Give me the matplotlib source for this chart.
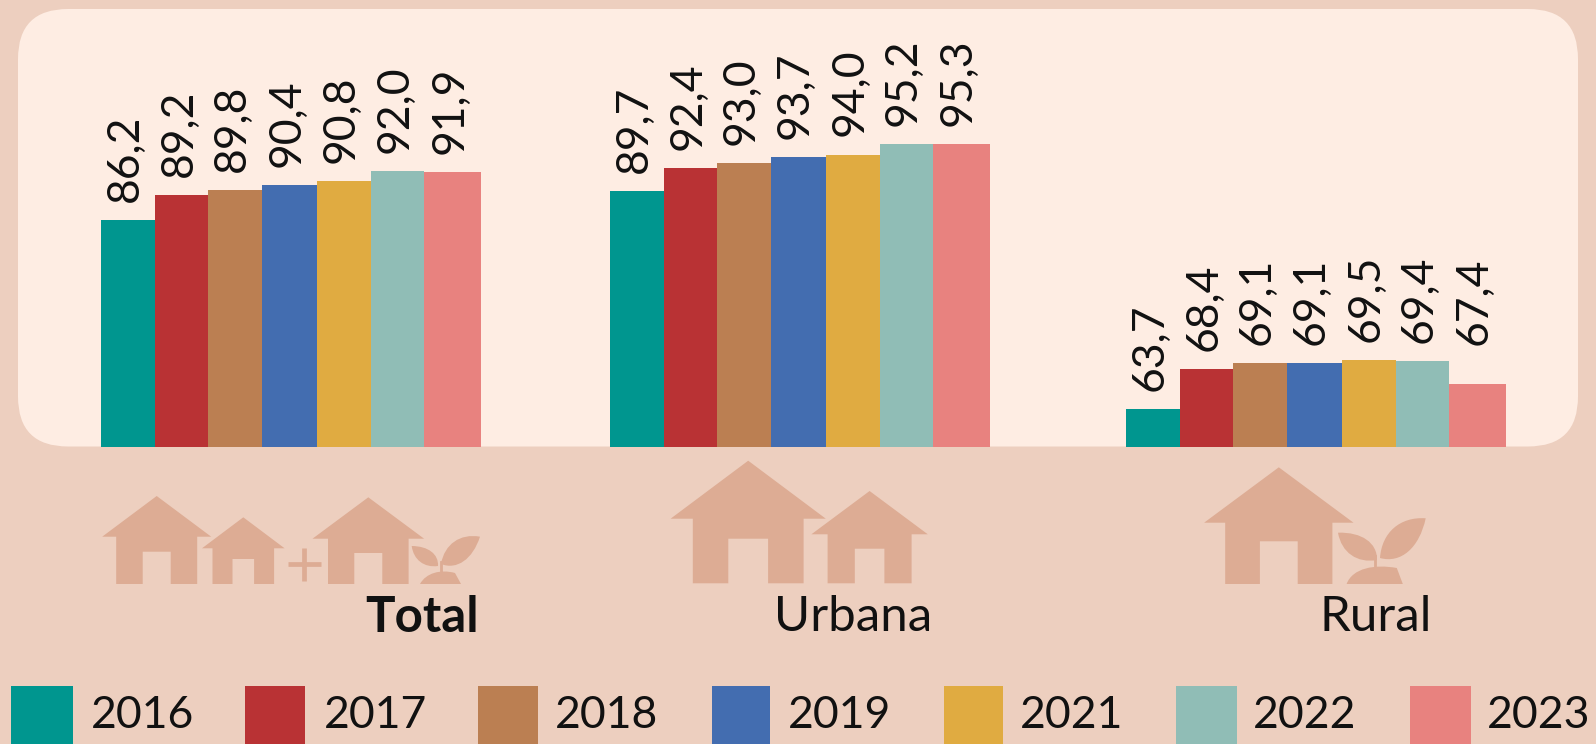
import matplotlib
matplotlib.use("Agg")
import matplotlib.pyplot as plt
from matplotlib.patches import FancyBboxPatch, PathPatch, Polygon, Rectangle
from matplotlib.path import Path

# data
years = ["2016", "2017", "2018", "2019", "2021", "2022", "2023"]
categories = ["Total", "Urbana", "Rural"]
total = [86.2, 89.2, 89.8, 90.4, 90.8, 92.0, 91.9]
urbana = [89.7, 92.4, 93.0, 93.7, 94.0, 95.2, 95.3]
rural = [63.7, 68.4, 69.1, 69.1, 69.5, 69.4, 67.4]
# the last rural bar is drawn shorter than its label says, and its label sits with the others
rural_drawn = [63.7, 68.4, 69.1, 69.1, 69.5, 69.4, 66.6]
rural_label_at = [63.7, 68.4, 69.1, 69.1, 69.5, 69.4, 69.2]
colors = ["#00968F", "#B93234", "#BB7F52", "#436DB0", "#E0AB41", "#90BDB6", "#E8827F"]

BG = "#EDCFBF"
PANEL = "#FEEDE3"
ICON = "#DDAC94"
W, H = 1596, 744
BASE_PX = 446.5
PX_PER_UNIT = 8.39
BASE_VAL = 59.2
FONT = "Lato"

fig = plt.figure(figsize=(W / 100, H / 100), dpi=100, facecolor=BG)

# pixel layer for the panel, the icons and the legend
bg = fig.add_axes([0, 0, 1, 1], zorder=0)
bg.set_xlim(0, W)
bg.set_ylim(H, 0)
bg.axis("off")

bg.add_patch(FancyBboxPatch((18 + 50, 9 + 50), 1560 - 100, 437.5 - 100,
                            boxstyle="round,pad=50,rounding_size=50",
                            fc=PANEL, ec="none"))


def house(cx, apex, eave, half, body, bottom, door, door_top):
    pts = [(cx, apex), (cx + half, eave), (cx + body, eave), (cx + body, bottom),
           (cx + door, bottom), (cx + door, door_top), (cx - door, door_top),
           (cx - door, bottom), (cx - body, bottom), (cx - body, eave), (cx - half, eave)]
    bg.add_patch(Polygon(pts, closed=True, fc=ICON, ec="none"))


def leaf(base, tip, bulge):
    (x0, y0), (x1, y1) = base, tip
    dx, dy = x1 - x0, y1 - y0
    nx, ny = -dy * bulge, dx * bulge
    verts = [(x0, y0),
             (x0 + dx * 0.2 + nx, y0 + dy * 0.2 + ny), (x0 + dx * 0.6 + nx, y0 + dy * 0.6 + ny), (x1, y1),
             (x0 + dx * 0.7 - nx, y0 + dy * 0.7 - ny), (x0 + dx * 0.3 - nx, y0 + dy * 0.3 - ny), (x0, y0)]
    codes = [Path.MOVETO] + [Path.CURVE4] * 6
    bg.add_patch(PathPatch(Path(verts, codes), fc=ICON, ec="none"))


def sprout(left, right, top, bottom, tip_l, base_l, tip_r, base_r):
    cx = (left + right) / 2
    verts = [(left, bottom), (left + 6, top + 4), (cx, top), (right - 6, top + 4),
             (right, bottom), (right, bottom), (left, bottom)]
    codes = [Path.MOVETO, Path.CURVE4, Path.CURVE4, Path.CURVE4,
             Path.LINETO, Path.LINETO, Path.CLOSEPOLY]
    bg.add_patch(PathPatch(Path(verts, codes), fc=ICON, ec="none"))
    bg.plot([cx, cx], [top + 2, base_l[1] - 4], color=ICON, lw=2)
    leaf(base_l, tip_l, 0.3)
    leaf(base_r, tip_r, 0.3)


house(156.7, 496, 536.7, 54.5, 40.5, 584, 14, 551.7)
house(243.3, 517.3, 548.3, 41.3, 30.8, 584, 10.8, 559)
bg.plot([288, 320.5], [564.3, 564.3], color=ICON, lw=3.4, solid_capstyle="butt")
bg.plot([304.3, 304.3], [548, 581], color=ICON, lw=3.4, solid_capstyle="butt")
house(368.3, 497.3, 538.7, 55.8, 40.3, 584, 14, 553)
sprout(420, 461, 569, 584, (411.7, 546), (438, 566), (480, 536.7), (441, 564))

house(748.2, 460.7, 518.7, 77.6, 55.4, 583.3, 19.9, 538.7)
house(869.6, 491, 534.3, 58.2, 42, 583.3, 14.8, 548.7)

house(1278.8, 467.3, 522.7, 74.7, 53.6, 584, 18.9, 541.3)
sprout(1346.6, 1402.8, 564, 584, (1338, 532.7), (1377, 560), (1425.7, 518.3), (1380, 558))

# legend
legend_boxes = [(11, 73), (245, 305), (477.5, 538), (712, 770), (944, 1003), (1176, 1237), (1410, 1471)]
legend_text_x = [91, 324, 555, 788, 1020, 1253, 1487]
for (x0, x1), tx, c, y in zip(legend_boxes, legend_text_x, colors, years):
    bg.add_patch(Rectangle((x0, 686), x1 - x0, 58, fc=c, ec="none"))
    bg.text(tx, 715, y, fontsize=32, family=FONT, color="#111111", ha="left", va="center")

for cat, x, weight in zip(categories, [422, 853, 1376], ["bold", "normal", "normal"]):
    bg.text(x, 617, cat, fontsize=35.5, family=FONT, fontweight=weight,
            color="#111111", ha="center", va="center")

# bars, y axis in the chart's own values
ax = fig.add_axes([0, 0, 1, 1], zorder=1)
ax.patch.set_alpha(0)
ax.axis("off")
ax.set_xlim(0, W)
ax.set_ylim(BASE_VAL - (H - BASE_PX) / PX_PER_UNIT, BASE_VAL + BASE_PX / PX_PER_UNIT)

edges = [0, 54, 106.9, 160.8, 215.8, 269.8, 322.7, 379.7]
group_left = [101.3, 610, 1126]
groups = [(total, total, total), (urbana, urbana, urbana), (rural, rural_drawn, rural_label_at)]
for left, (vals, drawn, label_at) in zip(group_left, groups):
    xs = [left + (edges[i] + edges[i + 1]) / 2 for i in range(len(vals))]
    ws = [edges[i + 1] - edges[i] for i in range(len(vals))]
    ax.bar(xs, [v - BASE_VAL for v in drawn], width=ws, bottom=BASE_VAL, color=colors, linewidth=0)
    for x, v, at in zip(xs, vals, label_at):
        ax.annotate(f"{v:.1f}".replace(".", ","), (x, at), xytext=(-2, 13),
                    textcoords="offset points", rotation=90, ha="center", va="bottom",
                    fontsize=32, family=FONT, color="#111111")

fig.savefig("out.png", dpi=100, facecolor=BG)
